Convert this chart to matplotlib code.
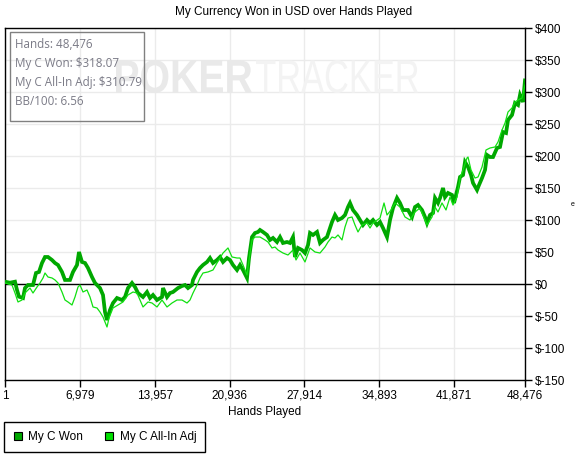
import matplotlib
matplotlib.use("Agg")
import matplotlib.pyplot as plt
from matplotlib.lines import Line2D
from matplotlib.patches import Rectangle, PathPatch
from matplotlib.textpath import TextPath
from matplotlib.font_manager import FontProperties
from matplotlib.transforms import Affine2D

plt.rcParams["font.family"] = ["Liberation Sans", "DejaVu Sans"]

W, H = 575, 457

# data
won_hands = [1, 467, 933, 1120, 1306, 1679, 1865, 2145, 2611, 2891,
             3170, 3450, 3730, 4010, 4382, 4662, 4942, 5314, 5594, 6060,
             6340, 6713, 6899, 7179, 7459, 7738, 8111, 8391, 8857, 9137,
             9323, 9510, 9789, 10069, 10442, 10908, 11188, 11467, 11840,
             12120, 12400, 12865, 13238, 13518, 13798, 14170, 14637, 14730, 15103,
             15382, 15662, 16128, 16501, 16781, 17061, 17434, 17527, 17899, 18179,
             18459, 18832, 19112, 19391, 19764, 20044, 20324, 20697, 20976, 21256,
             21629, 21909, 22188, 22561, 22748, 23027, 23307, 23587,
             23772, 24052, 24425, 24705, 24984, 25357, 25637, 25916, 26289, 26569,
             26849, 27035, 27315, 27688, 27967, 28247, 28434, 28713, 29086, 29366,
             29645, 30018, 30298, 30485, 30764, 31044, 31417, 31696, 31976, 32163,
             32443, 32815, 33095, 33375, 33748, 34027, 34307, 34680, 34960, 35239,
             35612, 35892, 36171, 36544,
             36823, 37103, 37569, 37942, 38222, 38502, 38874, 39154, 39341, 39620,
             39900, 40087, 40366, 40553, 40833, 41019, 41299, 41672, 41858, 42045,
             42231, 42418, 42697, 42884, 43164, 43443, 43630, 44003, 44189, 44469,
             44749, 44935, 45215, 45495, 45868, 46147, 46427, 46707, 46893, 47266,
             47546, 47826, 48012, 48292, 48476]
won_usd = [3.6, 2, 3.6, -9.4, -19.8, -21.9, -6.3, -1.6, -1.6, 17.2,
           18.8, 32.8, 42.2, 42.2, 37.5, 32.8, 29.7, 18.8, 6.3, 6.3,
           18.8, 29.7, 50, 34.4, 32.8, 25, 10.9, 1.6, -6.3, -17.2,
           -43.8, -56.3, -40.6, -29.7, -21.9, -25, -20.3, -6.3, 1.6,
           -4.7, -14.1, -20.3, -12.5, -21.9, -17.2, -25, -20.3, -6.3, -20.3,
           -14.1, -12.5, -6.3, -3.1, -1.6, -6.3, -1.6, 6.3, 18.8, 25,
           29.7, 34.4, 40.6, 32.8, 37.5, 42.2, 34.4, 40.6, 37.5, 29.7,
           21.9, 29.7, 21.9, 9.4, 40.6, 73.4, 79.7, 81.3,
           84.4, 81.3, 76.6, 68.8, 71.9, 65.6, 73.4, 64.1, 65.6, 64.1,
           73.4, 42.2, 56.3, 53.1, 48.4, 60.9, 79.7, 76.6, 81.3, 64.1,
           68.8, 73.4, 87.5, 96.9, 107.8, 100, 103.1, 107.8, 120.3, 126.6,
           115.6, 107.8, 100, 92.2, 100, 95.3, 100, 92.2, 96.9, 87.5,
           73.4, 100, 118.8, 134.4,
           126.6, 115.6, 115.6, 104.7, 120.3, 123.4, 115.6, 104.7, 95.3, 107.8,
           110.9, 134.4, 126.6, 134.4, 150, 135.9, 142.2, 139.1, 126.6, 139.1,
           151.6, 167.2, 170.3, 190.6, 182.8, 170.3, 157.8, 146.9, 154.7, 165.6,
           178.1, 201.6, 198.4, 198.4, 212.5, 214.1, 237.5, 235.9, 256.3, 264.1,
           282.8, 279.7, 295.3, 284.4, 318.07]

adj_hands = [1, 654, 933, 1213, 1586, 1865, 2332, 2611, 2984, 3264,
             3543, 3730, 4010, 4382, 4662, 4942, 5314, 5594, 5874, 6247,
             6526, 6806, 6993, 7272, 7645, 7925, 8204, 8577, 8857, 9137,
             9510, 9696, 10069, 10535, 11001, 11467, 11933,
             12306, 12586, 12865, 13331, 13704, 14170, 14637, 15103, 15569, 16035,
             16501, 16967, 17247, 17527, 17899, 18179, 18459, 18925, 19391, 19764,
             20044, 20324, 20790, 21163, 21629, 21909, 22188, 22561, 22841, 23027,
             23307,
             23772, 24238, 24518, 24891, 25171, 25451, 25916, 26382, 26849, 27128,
             27501, 27967, 28434, 28900, 29366, 29832, 30112, 30485, 30764, 31044,
             31417, 31696, 31976, 32349, 32629, 32908, 33281, 33748, 34027, 34307,
             34960, 35333, 35612, 35985, 36358,
             36823, 37289, 37755, 38222, 38688, 39154, 39341, 39807, 40087, 40366,
             40739, 41112, 41485, 41765, 42138, 42418, 42697, 43070, 43164, 43443,
             43816, 44096, 44469, 44842, 45215, 45681, 45961, 46334, 46614, 46893,
             47266, 47546, 47826, 48199, 48476]
adj_usd = [1.6, -1.6, -14.1, -28.1, -25, -14.1, -6.3, -14.1, -4.7, 1.6,
           9.4, 17.2, 10.9, 9.4, 6.3, 1.6, -12.5, -25, -28.1, -32.8,
           -20.3, -4.7, -1.6, -12.5, -9.4, -20.3, -35.9, -37.5, -43.8, -51.6,
           -67.2, -53.1, -37.5, -32.8, -28.1, -17.2, -12.5,
           -14.1, -25, -35.9, -28.1, -29.7, -35.9, -25, -35.9, -29.7, -25,
           -25, -29.7, -25, -14.1, -1.6, 9.4, 17.2, 18.8, 21.9, 32.8,
           40.6, 48.4, 56.3, 42.2, 40.6, 40.6, 29.7, 14.1, 48.4, 68.8,
           73.4,
           73.4, 68.8, 65.6, 56.3, 57.8, 53.1, 48.4, 45.3, 53.1, 37.5,
           48.4, 34.4, 56.3, 50, 48.4, 57.8, 65.6, 73.4, 71.9, 76.6,
           68.8, 89.1, 103.1, 104.7, 92.2, 81.3, 92.2, 95.3, 87.5, 95.3,
           103.1, 126.6, 107.8, 115.6, 126.6,
           120.3, 104.7, 100, 112.5, 118.8, 100, 92.2, 104.7, 120.3, 112.5,
           126.6, 115.6, 135.9, 123.4, 135.9, 165.6, 178.1, 196.9, 198.4, 178.1,
           165.6, 167.2, 182.8, 209.4, 212.5, 214.1, 221.9, 240.6, 251.6, 268.8,
           275, 284.4, 287.5, 290.6, 310.79]

x_ticks = [1, 6979, 13957, 20936, 27914, 34893, 41871, 48476]
y_ticks = [-150, -100, -50, 0, 50, 100, 150, 200, 250, 300, 350, 400]
series_names = ["My C Won", "My C All-In Adj"]
info_lines = ["Hands: 48,476", "My C Won: $318.07",
              "My C All-In Adj: $310.79", "BB/100: 6.56"]

won_color = "#00a800"
adj_color = "#10e010"

fig = plt.figure(figsize=(W / 100, H / 100), dpi=100)
ax = fig.add_axes([5 / W, 1 - 380 / H, 520 / W, 352 / H])

ax.plot(won_hands, won_usd, color=won_color, lw=2.7, zorder=3,
        solid_joinstyle="miter")
ax.plot(adj_hands, adj_usd, color=adj_color, lw=0.9, zorder=4)
ax.axhline(0, color="black", lw=1, zorder=2)

ax.set_xticks(x_ticks)
ax.set_xticklabels([f"{t:,}" for t in x_ticks])
ax.set_yticks(y_ticks)
ax.set_yticklabels([f"${t}" for t in y_ticks])
ax.yaxis.tick_right()
ax.tick_params(axis="both", direction="out", length=5, width=1,
               color="black", labelsize=8.5, pad=2)
ax.grid(True, color="#ebebeb", lw=1)
ax.set_axisbelow(True)
for s in ax.spines.values():
    s.set_linewidth(1)
    s.set_color("black")
ax.set_xlabel("Hands Played", fontsize=8.5, labelpad=3)

fig.text(0.51, 1 - 12 / H, "My Currency Won in USD over Hands Played",
         ha="center", va="center", fontsize=8.5)


# faint watermark
def stamp(text, weight, color, x0, x1, y0, y1):
    tp = TextPath((0, 0), text, size=10,
                  prop=FontProperties(family="Liberation Sans", weight=weight))
    ext = tp.get_extents()
    tr = (Affine2D().translate(-ext.x0, -ext.y0)
          .scale((x1 - x0) / ext.width, (y1 - y0) / ext.height)
          .translate(x0, H - y1).scale(1 / 100) + fig.dpi_scale_trans)
    ax.add_patch(PathPatch(tp, transform=tr, facecolor=color,
                           edgecolor="none", zorder=1))


stamp("POKER", "bold", "#e9e9e9", 116, 252, 60, 93)
stamp("TRACKER", "normal", "#f3f3f3", 256, 418, 60, 93)
ax.set_xlim(1, 48476)
ax.set_ylim(-150, 400)

# info box
fig.patches.append(Rectangle((10 / W, 1 - 121 / H), 134 / W, 89 / H,
                             transform=fig.transFigure, facecolor="none",
                             edgecolor="#808080", lw=1, zorder=5))
for i, line in enumerate(info_lines):
    fig.text(15 / W, 1 - (44 + i * 19.3) / H, line, ha="left", va="center",
             fontsize=8.4, color="#7a7a86", family=["Open Sans", "DejaVu Sans"],
             zorder=6)

fig.text(573 / W, 1 - 205 / H, "e", fontsize=5, ha="center", va="center")

handles = [Line2D([], [], marker="s", ls="none", markersize=6,
                  markerfacecolor=c, markeredgecolor="black", markeredgewidth=0.8)
           for c in (won_color, "#00e000")]
leg = fig.legend(handles, series_names, loc="lower left",
                 bbox_to_anchor=(4 / W, 1 - 452 / H), ncol=2, frameon=True,
                 fancybox=False, edgecolor="black", framealpha=1, fontsize=8.5,
                 handlelength=0.8, handletextpad=0.5, columnspacing=1.8,
                 borderpad=0.75, borderaxespad=0)
leg.get_frame().set_linewidth(1)

fig.savefig("out.png", dpi=100)
plt.close(fig)
